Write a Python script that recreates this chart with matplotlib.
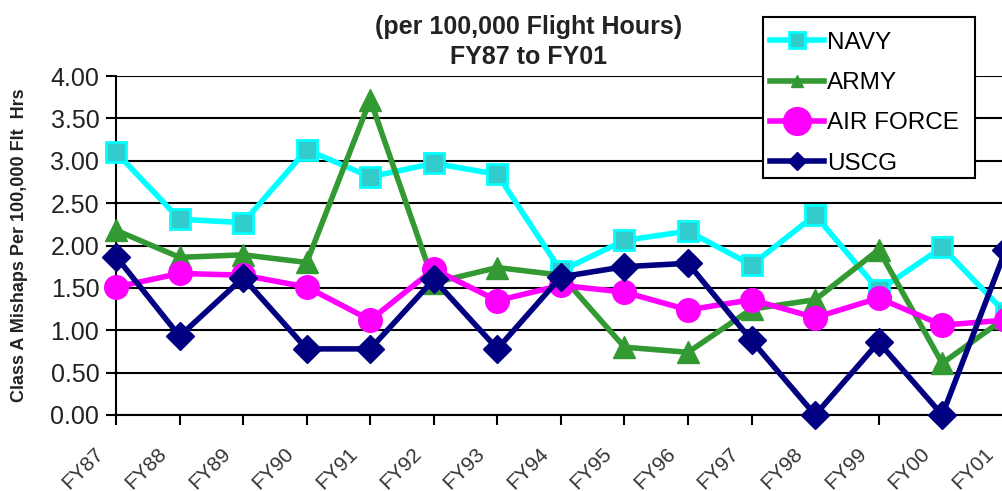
import matplotlib.pyplot as plt
from matplotlib.patches import Rectangle
from matplotlib.transforms import ScaledTranslation

years = ["FY87", "FY88", "FY89", "FY90", "FY91", "FY92", "FY93", "FY94",
         "FY95", "FY96", "FY97", "FY98", "FY99", "FY00", "FY01"]
navy = [3.10, 2.31, 2.27, 3.13, 2.81, 2.97, 2.84, 1.70, 2.06, 2.17, 1.77, 2.36, 1.47, 1.98, 1.20]
army = [2.18, 1.86, 1.89, 1.80, 3.72, 1.56, 1.74, 1.65, 0.80, 0.74, 1.25, 1.36, 1.95, 0.61, 1.15]
air_force = [1.51, 1.67, 1.65, 1.51, 1.12, 1.72, 1.35, 1.53, 1.45, 1.24, 1.36, 1.15, 1.38, 1.06, 1.12]
uscg = [1.87, 0.93, 1.62, 0.78, 0.78, 1.60, 0.78, 1.63, 1.75, 1.79, 0.88, 0.00, 0.86, 0.00, 1.95]

plt.rcParams['font.family'] = ['Liberation Sans', 'DejaVu Sans']

fig = plt.figure(figsize=(10.02, 4.91), dpi=100)
ax = fig.add_axes([0.1158, 0.1548, 0.888, 0.6904])

x = range(len(years))
ax.plot(x, navy, color="#00FFFF", lw=4, marker="s", ms=15, mfc="#33CCCC",
        mec="#00FFFF", mew=2, label="NAVY", clip_on=False, zorder=3)
ax.plot(x, army, color="#339933", lw=4, marker="^", ms=16, mfc="#339933",
        mec="#339933", label="ARMY", clip_on=False, zorder=4)
ax.plot(x, air_force, color="#FF00FF", lw=4, marker="o", ms=17, mfc="#FF00FF",
        mec="#FF00FF", label="AIR FORCE", clip_on=False, zorder=5)
ax.plot(x, uscg, color="#000080", lw=4, marker="D", ms=14, mfc="#000080",
        mec="#000080", label="USCG", clip_on=False, zorder=6)

ax.set_xlim(0, len(years) - 1)
ax.set_ylim(0, 4)
ax.set_yticks([i * 0.5 for i in range(9)])
ax.set_yticklabels([f"{i * 0.5:.2f}" for i in range(9)], fontsize=18, color="#222222")
ax.set_xticks(list(x))
ax.set_xticklabels(years, rotation=45, ha="right", va="top", rotation_mode="anchor",
                   fontsize=15, color="#333333")
ax.tick_params(axis="both", direction="out", length=7, width=1.5, color="black")
ax.tick_params(axis="x", pad=14)
ax.tick_params(axis="y", pad=5)

# shift the rotated labels left, like the original
shift = ScaledTranslation(-16 / 72, 0, fig.dpi_scale_trans)
for lab in ax.get_xticklabels():
    lab.set_transform(lab.get_transform() + shift)

ax.grid(axis="y", color="black", lw=1.5, zorder=1)
ax.set_axisbelow(True)
for s in ["top", "right"]:
    ax.spines[s].set_visible(False)
ax.spines["left"].set_linewidth(1.5)
ax.spines["bottom"].set_linewidth(1.5)

fig.text(0.019, 0.5, "Class A Mishaps Per 100,000 Flt  Hrs", rotation=90,
         fontsize=13, fontweight="bold", ha="center", va="center", color="#222222")

fig.text(0.528, 0.946, "(per 100,000 Flight Hours)", fontsize=18, fontweight="bold",
         ha="center", va="center", color="#222222")
fig.text(0.528, 0.884, "FY87 to FY01", fontsize=18, fontweight="bold",
         ha="center", va="center", color="#222222")

# legend box drawn separately so the entries sit like the original
box = Rectangle((0.7615, 0.6375), 0.2116, 0.3279, transform=fig.transFigure,
                facecolor="white", edgecolor="black", lw=1.5, zorder=9, clip_on=False)
ax.add_patch(box)
leg = ax.legend(loc="upper left", bbox_to_anchor=(0.7685, 0.935), bbox_transform=fig.transFigure,
                fontsize=17.5, frameon=False, handlelength=2.2, handletextpad=0.15,
                borderpad=0, labelspacing=0.75, borderaxespad=0)
leg.set_zorder(10)
for h, size in zip(leg.legend_handles, [11, 9, 20, 9]):
    h.set_markersize(size)

plt.savefig("out.png", dpi=100)
